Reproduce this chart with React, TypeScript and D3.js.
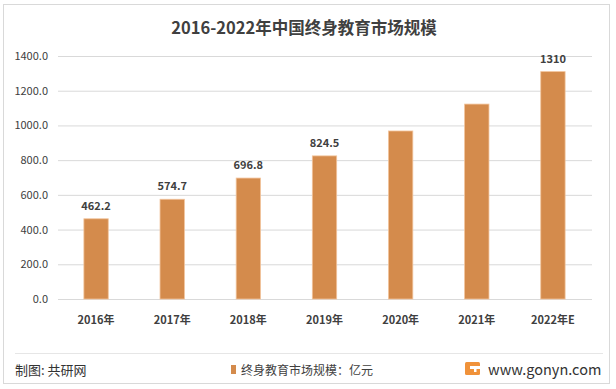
import React from "react";
import * as d3 from "d3";

const categories = ["2016年", "2017年", "2018年", "2019年", "2020年", "2021年", "2022年E"];
const values = [462.2, 574.7, 696.8, 824.5, 968.0, 1123.0, 1310];
const valueLabels = ["462.2", "574.7", "696.8", "824.5", "", "", "1310"];
const yTicks = [0, 200, 400, 600, 800, 1000, 1200, 1400];

const W = 616;
const H = 389;
const font = "'Noto Sans CJK SC', 'Noto Sans', sans-serif";

export default function App() {
  const x = d3.scaleBand().domain(categories).range([58, 591]).paddingInner(0.68).paddingOuter(0.34);
  const y = d3.scaleLinear().domain([0, 1400]).range([299, 56]);
  return (
    <svg width={W} height={H} style={{ position: "absolute", left: 0, top: 0 }} fontFamily={font}>
      <rect x={0} y={0} width={W} height={H} fill="#fff" />
      <rect x={3.5} y={4.5} width={606} height={379} fill="#fff" stroke="#d9d9d9" />
      <text x={304} y={34} textAnchor="middle" fontSize={16.5} fontWeight="bold" fill="#404040">
        2016-2022年中国终身教育市场规模
      </text>
      {yTicks.map((t) => (
        <g key={t}>
          <line x1={58} x2={592} y1={y(t) + 0.5} y2={y(t) + 0.5} stroke="#d9d9d9" />
          <text x={48} y={y(t) + 4} textAnchor="end" fontSize={11} fill="#404040">
            {t.toFixed(1)}
          </text>
        </g>
      ))}
      {categories.map((c, i) => (
        <g key={c}>
          <rect
            x={x(c)}
            y={y(values[i])}
            width={x.bandwidth()}
            height={y(0) - y(values[i])}
            fill="#d48b4c"
            stroke="#f2c49c"
            strokeWidth={0.8}
          />
          {valueLabels[i] && (
            <text x={x(c)! + x.bandwidth() / 2} y={y(values[i]) - 9} textAnchor="middle" fontSize={11} fontWeight="bold" fill="#404040">
              {valueLabels[i]}
            </text>
          )}
          <text x={x(c)! + x.bandwidth() / 2} y={324} textAnchor="middle" fontSize={11} fontWeight="bold" fill="#404040">
            {c}
          </text>
        </g>
      ))}
      <line x1={15} x2={603} y1={353.5} y2={353.5} stroke="#e6e6e6" />
      <text x={15} y={375} fontSize={13} fill="#333">制图: 共研网</text>
      <rect x={231} y={365} width={5} height={9} fill="#d48b4c" />
      <text x={241} y={375} fontSize={12} fill="#404040">终身教育市场规模：亿元</text>
      <g transform="translate(465,362)">
        <rect x={0} y={0} width={15} height={13} rx={1.5} fill="#f0923a" />
        <rect x={5} y={4} width={10} height={3} fill="#fff" />
        <rect x={9} y={7} width={2.5} height={3} fill="#fff" />
      </g>
      <text x={488} y={375} fontSize={14.5} fill="#333">www.gonyn.com</text>
    </svg>
  );
}
